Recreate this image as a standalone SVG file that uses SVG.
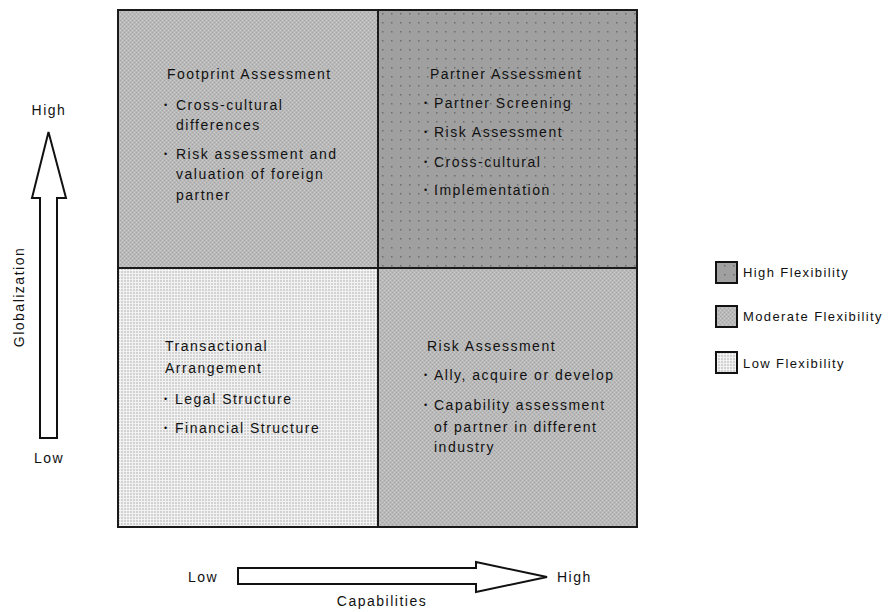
<svg xmlns="http://www.w3.org/2000/svg" width="888" height="612" viewBox="0 0 888 612">
<defs>
<pattern id="pMod" width="4" height="4" patternUnits="userSpaceOnUse">
<rect width="4" height="4" fill="#b9b9b9"/>
<rect x="0" y="0" width="1" height="1" fill="#a6a6a6"/>
<rect x="2" y="2" width="1" height="1" fill="#a6a6a6"/>
<rect x="2" y="0" width="1" height="1" fill="#cacaca"/>
<rect x="0" y="2" width="1" height="1" fill="#cacaca"/>
</pattern>
<pattern id="pHigh" width="9" height="9" patternUnits="userSpaceOnUse">
<rect width="9" height="9" fill="#a0a0a0"/>
<rect x="4" y="4" width="1.5" height="1.5" fill="#6e6e6e"/>
</pattern>
<pattern id="pLow" width="3" height="3" patternUnits="userSpaceOnUse">
<rect width="3" height="3" fill="#d2d2d2"/>
<rect x="0" y="0" width="3" height="1" fill="#f2f2f2"/>
<rect x="0" y="0" width="1" height="3" fill="#f2f2f2"/>
</pattern>
<style>
text{font-family:"Liberation Sans",Arial,sans-serif;fill:#111;}
.q{font-size:14px;letter-spacing:1.5px;}
.b{font-size:9px;}
.lg{font-size:13px;letter-spacing:1.4px;}
.ax{font-size:14px;letter-spacing:1.5px;}
.cell{stroke:#1a1a1a;stroke-width:2;}
.arrow{fill:#fff;stroke:#111;stroke-width:2;stroke-linejoin:miter;}
.sw{stroke:#111;stroke-width:2;}
</style>
</defs>

<g id="quadrant-tl">
<rect class="cell" x="118" y="10" width="260" height="258" fill="url(#pMod)"/>
<text class="q" x="167" y="79">Footprint Assessment</text>
<text class="b" x="164" y="108">•</text><text class="q" x="176" y="110">Cross-cultural</text>
<text class="q" x="176" y="130">differences</text>
<text class="b" x="164" y="157">•</text><text class="q" x="176" y="159">Risk assessment and</text>
<text class="q" x="176" y="179">valuation of foreign</text>
<text class="q" x="176" y="200">partner</text>
</g>

<g id="quadrant-tr">
<rect class="cell" x="378" y="10" width="259" height="258" fill="url(#pHigh)"/>
<text class="q" x="430" y="79">Partner Assessment</text>
<text class="b" x="424" y="106">•</text><text class="q" x="434" y="108">Partner Screening</text>
<text class="b" x="424" y="135">•</text><text class="q" x="434" y="137">Risk Assessment</text>
<text class="b" x="424" y="165">•</text><text class="q" x="434" y="167">Cross-cultural</text>
<text class="b" x="424" y="193">•</text><text class="q" x="434" y="195">Implementation</text>
</g>

<g id="quadrant-bl">
<rect class="cell" x="118" y="268" width="260" height="259" fill="url(#pLow)"/>
<text class="q" x="165" y="351">Transactional</text>
<text class="q" x="165" y="373">Arrangement</text>
<text class="b" x="164" y="402">•</text><text class="q" x="175" y="404">Legal Structure</text>
<text class="b" x="164" y="431">•</text><text class="q" x="175" y="433">Financial Structure</text>
</g>

<g id="quadrant-br">
<rect class="cell" x="378" y="268" width="259" height="259" fill="url(#pMod)"/>
<text class="q" x="427" y="351">Risk Assessment</text>
<text class="b" x="424" y="378">•</text><text class="q" x="434" y="380">Ally, acquire or develop</text>
<text class="b" x="424" y="408">•</text><text class="q" x="434" y="410">Capability assessment</text>
<text class="q" x="434" y="432">of partner in different</text>
<text class="q" x="434" y="452">industry</text>
</g>

<g id="legend">
<rect class="sw" x="716" y="262" width="21" height="21" fill="url(#pHigh)"/>
<text class="lg" x="743" y="277">High Flexibility</text>
<rect class="sw" x="716" y="306" width="21" height="21" fill="url(#pMod)"/>
<text class="lg" x="743" y="321">Moderate Flexibility</text>
<rect class="sw" x="716" y="352" width="21" height="21" fill="url(#pLow)"/>
<text class="lg" x="743" y="368">Low Flexibility</text>
</g>

<g id="axis-globalization">
<polygon class="arrow" points="40,438 57,438 57,198 66,198 48.5,132 32,198 40,198"/>
<text class="ax" x="49" y="115" text-anchor="middle">High</text>
<text class="ax" x="49" y="463" text-anchor="middle">Low</text>
<text class="ax" transform="translate(24,297) rotate(-90)" text-anchor="middle">Globalization</text>
</g>

<g id="axis-capabilities">
<polygon class="arrow" points="238,568 476,568 476,562 547,577 476,592 476,584 238,584"/>
<text class="ax" x="188" y="582">Low</text>
<text class="ax" x="557" y="582">High</text>
<text class="ax" x="382" y="606" text-anchor="middle">Capabilities</text>
</g>

<g id="connectors"></g>
</svg>
